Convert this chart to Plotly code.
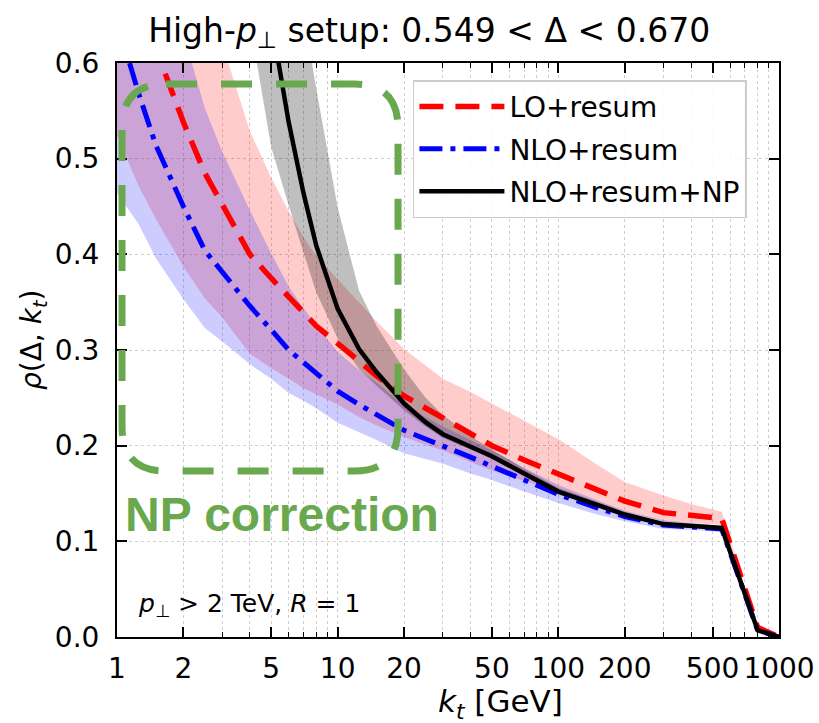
import plotly.graph_objects as go

# ---------------- data ----------------
kt = [1, 1.25, 1.5, 2, 2.5, 3, 4, 5, 6, 7, 8, 10, 12.5, 15, 20, 25, 30, 40, 50,
      70, 100, 150, 200, 300, 400, 550, 800, 1000]

lo_resum = [0.77, 0.675, 0.615, 0.538, 0.485, 0.452, 0.40, 0.375, 0.355, 0.338,
            0.325, 0.307, 0.288, 0.273, 0.252, 0.239, 0.229, 0.213, 0.200, 0.185,
            0.170, 0.154, 0.142, 0.130, 0.127, 0.124, 0.010, 0.0]
lo_resum_hi = [1.0, 0.9, 0.82, 0.72, 0.66, 0.62, 0.529, 0.48, 0.445, 0.418, 0.398,
               0.374, 0.35, 0.330, 0.301, 0.284, 0.27, 0.256, 0.244, 0.226, 0.207,
               0.180, 0.162, 0.148, 0.139, 0.131, 0.010, 0.0]
lo_resum_lo = [0.524, 0.472, 0.437, 0.387, 0.354, 0.334, 0.296, 0.281, 0.270, 0.260,
               0.254, 0.243, 0.230, 0.221, 0.209, 0.201, 0.195, 0.183, 0.174, 0.163,
               0.153, 0.140, 0.131, 0.121, 0.119, 0.117, 0.010, 0.0]

nlo_resum = [0.644, 0.569, 0.514, 0.450, 0.404, 0.381, 0.346, 0.321, 0.300, 0.287,
             0.276, 0.257, 0.243, 0.233, 0.216, 0.207, 0.200, 0.188, 0.1785, 0.1635,
             0.149, 0.135, 0.126, 0.117, 0.115, 0.113, 0.007, 0.0]
nlo_resum_hi = [0.934, 0.814, 0.73, 0.63, 0.553, 0.507, 0.446, 0.401, 0.366, 0.344,
                0.326, 0.298, 0.279, 0.266, 0.242, 0.230, 0.220, 0.206, 0.195, 0.177,
                0.159, 0.143, 0.132, 0.122, 0.119, 0.116, 0.007, 0.0]
nlo_resum_lo = [0.464, 0.432, 0.396, 0.353, 0.323, 0.309, 0.285, 0.270, 0.255, 0.247,
                0.239, 0.224, 0.214, 0.206, 0.192, 0.186, 0.181, 0.171, 0.164, 0.152,
                0.140, 0.128, 0.121, 0.113, 0.112, 0.110, 0.007, 0.0]

nlo_np = [None] * 6 + [0.79, 0.645, 0.538, 0.464, 0.409, 0.343, 0.301, 0.277, 0.244,
                       0.2245, 0.212, 0.199, 0.189, 0.171, 0.152, 0.138, 0.128, 0.118,
                       0.116, 0.114, 0.007, 0.0]
nlo_np_hi = [None] * 6 + [1.05, 0.894, 0.757, 0.653, 0.573, 0.449, 0.362, 0.325, 0.28,
                          0.25, 0.232, 0.21, 0.196, 0.176, 0.156, 0.141, 0.131, 0.12,
                          0.118, 0.116, 0.007, 0.0]
nlo_np_lo = [None] * 6 + [0.643, 0.512, 0.451, 0.402, 0.36, 0.312, 0.28, 0.263, 0.237,
                          0.22, 0.208, 0.196, 0.186, 0.168, 0.149, 0.136, 0.126, 0.116,
                          0.114, 0.112, 0.007, 0.0]

x_tickvals = [1, 2, 5, 10, 20, 50, 100, 200, 500, 1000]
x_ticktext = ["1", "2", "5", "10", "20", "50", "100", "200", "500", "1000"]
x_minor = [3, 4, 6, 7, 8, 9, 30, 40, 60, 70, 80, 90, 300, 400, 600, 700, 800, 900]
y_tickvals = [0.0, 0.1, 0.2, 0.3, 0.4, 0.5, 0.6]
y_ticktext = ["0.0", "0.1", "0.2", "0.3", "0.4", "0.5", "0.6"]

series_names = ["LO+resum", "NLO+resum", "NLO+resum+NP"]

# ---------------- figure ----------------
fig = go.Figure()


def band(x, hi, lo, color):
    pts = [(a, h, l) for a, h, l in zip(x, hi, lo) if h is not None and l is not None]
    xs = [p[0] for p in pts]
    his = [p[1] for p in pts]
    los = [p[2] for p in pts]
    fig.add_trace(go.Scatter(x=xs + xs[::-1], y=his + los[::-1], fill="toself",
                             fillcolor=color, line=dict(width=0), mode="lines",
                             showlegend=False, hoverinfo="skip"))


band(kt, lo_resum_hi, lo_resum_lo, "rgba(255,0,0,0.2)")
band(kt, nlo_resum_hi, nlo_resum_lo, "rgba(0,0,255,0.2)")
band(kt, nlo_np_hi, nlo_np_lo, "rgba(0,0,0,0.25)")

fig.add_trace(go.Scatter(x=kt, y=lo_resum, mode="lines", name=series_names[0],
                         legendgroup="a",
                         line=dict(color="#ff0000", width=5.5, dash="24px,12px")))
fig.add_trace(go.Scatter(x=kt, y=nlo_resum, mode="lines", name=series_names[1],
                         legendgroup="b",
                         line=dict(color="#0000ff", width=5, dash="23px,8px,5px,8px")))
fig.add_trace(go.Scatter(x=kt, y=nlo_np, mode="lines", name=series_names[2],
                         legendgroup="c", connectgaps=False,
                         line=dict(color="#000000", width=4.5)))

# green dashed rounded rectangle (paper coordinates of the plot area)
x0, x1, yt, yb = 0.0076, 0.4245, 0.9634, 0.2892
rx, ry = 44 / 662, 44 / 574
path = (f"M {x0+rx},{yt} L {x1-rx},{yt} Q {x1},{yt} {x1},{yt-ry} "
        f"L {x1},{yb+ry} Q {x1},{yb} {x1-rx},{yb} L {x0+rx},{yb} "
        f"Q {x0},{yb} {x0},{yb+ry} L {x0},{yt-ry} Q {x0},{yt} {x0+rx},{yt} Z")
fig.add_shape(type="path", path=path, xref="paper", yref="paper",
              line=dict(color="#6aa84f", width=7, dash="31px,24px"))

fig.add_annotation(text="<b>NP correction</b>", xref="paper", yref="paper",
                   x=0.009, y=0.214, xanchor="left", yanchor="middle", showarrow=False,
                   font=dict(family="Liberation Sans, Arial", size=48, color="#6aa84f"))
fig.add_annotation(text="<i>p</i><sub>⊥</sub> &gt; 2 TeV, <i>R</i> = 1",
                   xref="paper", yref="paper", x=0.028, y=0.056,
                   xanchor="left", yanchor="middle", showarrow=False,
                   font=dict(family="DejaVu Sans", size=25, color="black"))

# axis titles as annotations (placed where the reference has them)
fig.add_annotation(text="<i>k</i><sub><i>t</i></sub> [GeV]", xref="paper", yref="paper",
                   x=(500 - 117) / 662, y=(637 - 703) / 574, xanchor="center",
                   yanchor="middle", showarrow=False, borderpad=0,
                   font=dict(family="DejaVu Sans", size=31, color="black"))
fig.add_annotation(text="<i>ρ</i>(Δ, <i>k</i><sub><i>t</i></sub>)", xref="paper",
                   yref="paper", x=(33 - 117) / 662, y=(637 - 340) / 574,
                   xanchor="center", yanchor="middle", textangle=-90, showarrow=False,
                   font=dict(family="DejaVu Sans", size=28, color="black"))

grid_c = "#cfcfcf"
fig.update_layout(
    width=819, height=723,
    margin=dict(l=117, r=40, t=63, b=86),
    paper_bgcolor="white", plot_bgcolor="white",
    font=dict(family="DejaVu Sans", color="black"),
    title=dict(text="High-<i>p</i><sub>⊥</sub> setup: 0.549 &lt; Δ &lt; 0.670",
               xref="container", yref="container", x=0.524, y=1 - 30 / 723,
               xanchor="center", yanchor="middle", font=dict(size=33)),
    legend=dict(x=0.447, y=0.97, xanchor="left", yanchor="top",
                bgcolor="rgba(255,255,255,0.85)", bordercolor="#cccccc", borderwidth=1.5,
                font=dict(size=28), tracegroupgap=3, itemwidth=85),
    xaxis=dict(type="log", range=[0, 3], tickvals=x_tickvals, ticktext=x_ticktext,
               tickangle=0, ticks="inside", ticklen=10, tickwidth=1.5, tickcolor="black",
               showline=True, linecolor="black", linewidth=2, mirror="allticks",
               showgrid=True, gridcolor=grid_c, griddash="dot", gridwidth=1,
               zeroline=False, tickfont=dict(size=28), ticklabelstandoff=5,
               minor=dict(tickvals=x_minor, ticks="inside", ticklen=5, tickwidth=1,
                          tickcolor="black", showgrid=True, gridcolor=grid_c,
                          griddash="dot", gridwidth=1),
               automargin=False),
    yaxis=dict(range=[0, 0.6], tickvals=y_tickvals, ticktext=y_ticktext,
               ticks="inside", ticklen=10, tickwidth=1.5, tickcolor="black",
               showline=True, linecolor="black", linewidth=2, mirror="allticks",
               showgrid=True, gridcolor=grid_c, griddash="dot", gridwidth=1,
               zeroline=False, tickfont=dict(size=28), ticklabelstandoff=10,
               automargin=False),
)

fig.write_html("out.html", config={"displayModeBar": False},
               post_script="document.body.style.margin='0px';")
